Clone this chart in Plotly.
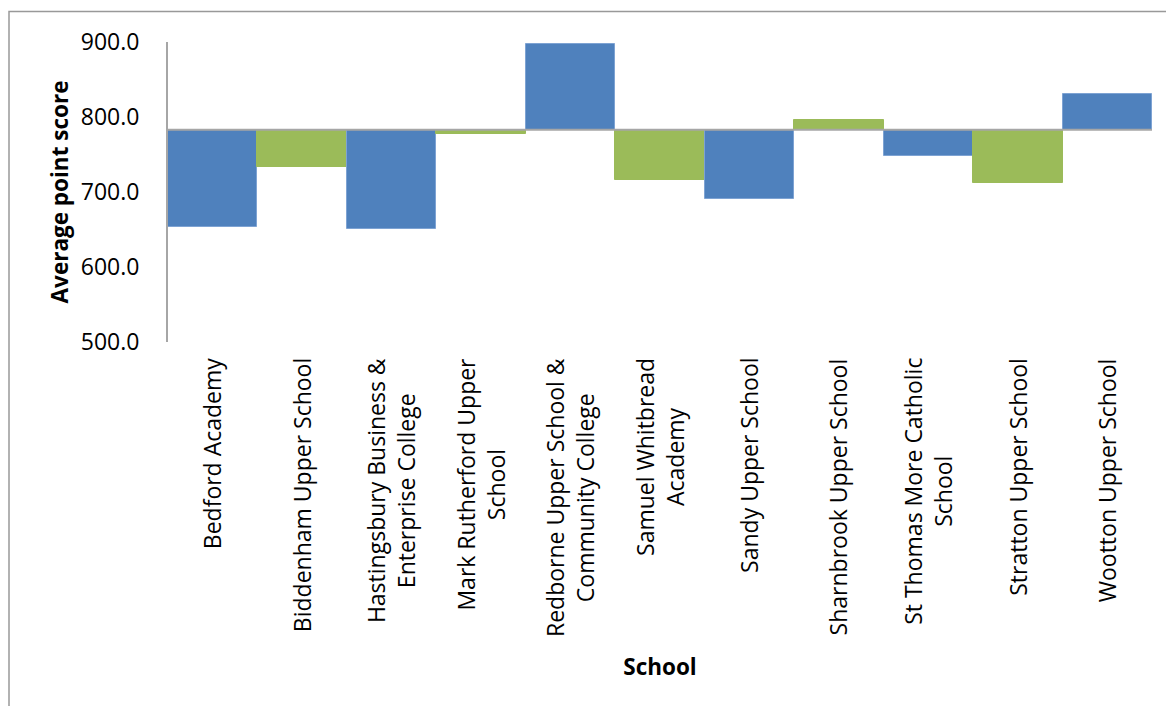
import plotly.graph_objects as go

schools = [
    "Bedford Academy",
    "Biddenham Upper School",
    "Hastingsbury Business &<br>Enterprise College",
    "Mark Rutherford Upper<br>School",
    "Redborne Upper School &<br>Community College",
    "Samuel Whitbread<br>Academy",
    "Sandy Upper School",
    "Sharnbrook Upper School",
    "St Thomas More Catholic<br>School",
    "Stratton Upper School",
    "Wootton Upper School",
]
scores = [654, 733, 651, 777, 898, 716, 691, 795.5, 748, 712, 830.5]
baseline = 783
y_ticks = [500, 600, 700, 800, 900]

BLUE = "#4F81BD"
GREEN = "#9BBB59"
colors = [BLUE if i % 2 == 0 else GREEN for i in range(len(schools))]
edge = ["#7EA3D3" if i % 2 == 0 else GREEN for i in range(len(schools))]

W, H = 1166, 706
ML, MR, MT, MB = 168, 14, 41.5, 364
pw = W - ML - MR
ph = H - MT - MB

FONT = "Open Sans"

fig = go.Figure()
fig.add_trace(go.Bar(
    x=list(range(len(schools))),
    y=[s - baseline for s in scores],
    base=baseline,
    marker=dict(color=colors, line=dict(color=edge, width=1)),
    width=1.0,
    showlegend=False,
    hoverinfo="skip",
))

# horizontal axis crossing line at the baseline
fig.add_shape(type="line", xref="paper", yref="y", x0=0, x1=1, y0=baseline, y1=baseline,
              line=dict(color="#A6A6A6", width=2), layer="above")

# outer chart border
fig.add_shape(type="rect", xref="paper", yref="paper",
              x0=(9 - ML) / pw, x1=(W + 20 - ML) / pw,
              y0=(H - MB - (H + 20)) / ph, y1=(H - MB - 11) / ph,
              line=dict(color="#999999", width=1.5), fillcolor="rgba(0,0,0,0)", layer="below")

# category labels (rotated, centred multi-line like the original)
for i, name in enumerate(schools):
    fig.add_annotation(
        x=i, xref="x", y=-14 / ph, yref="paper",
        text=name, textangle=-90, showarrow=False,
        xanchor="center", yanchor="top", align="center",
        font=dict(size=23, family=FONT, color="black"),
    )

fig.update_layout(
    width=W, height=H,
    margin=dict(l=ML, r=MR, t=MT, b=MB, pad=0),
    plot_bgcolor="white", paper_bgcolor="white",
    bargap=0,
    font=dict(family=FONT, color="black"),
    xaxis=dict(
        tickmode="array",
        tickvals=list(range(len(schools))),
        showticklabels=False,
        range=[-0.5, len(schools) - 0.5],
        showgrid=False, zeroline=False, showline=False,
        ticks="",
        title=dict(text="<b>School</b>", font=dict(size=22.5, family=FONT, color="black"), standoff=317),
    ),
    yaxis=dict(
        range=[500, 900],
        tickmode="array",
        tickvals=y_ticks,
        ticktext=[f"{v:.1f}" for v in y_ticks],
        tickfont=dict(size=23, family=FONT, color="black"),
        showgrid=False, zeroline=False,
        showline=True, linecolor="#A6A6A6", linewidth=2,
        ticks="", ticklabelstandoff=22,
        title=dict(text="<b>Average point score</b>", font=dict(size=22.5, family=FONT, color="black"), standoff=6),
    ),
)

fig.write_html("out.html")
